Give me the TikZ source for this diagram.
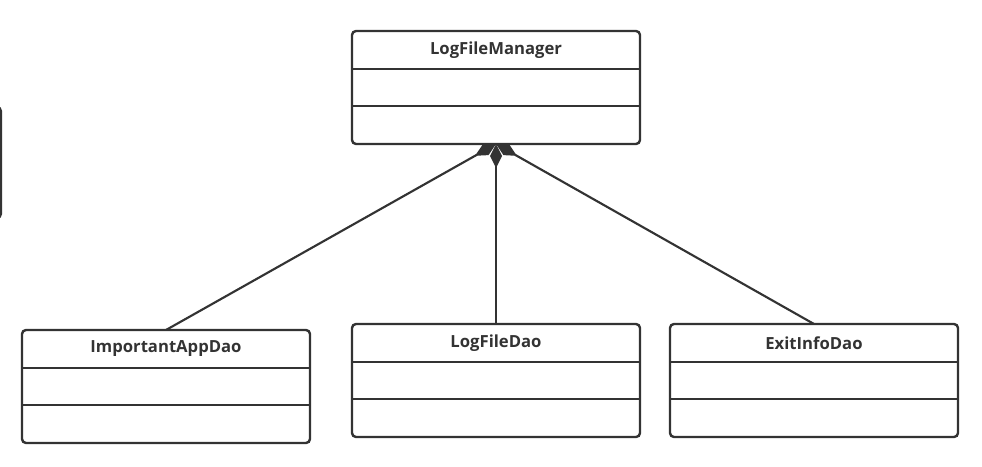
\documentclass[tikz,border=0pt]{standalone}
\usepackage{fontspec}
\setmainfont{Open Sans}
\usetikzlibrary{arrows.meta,positioning}
\definecolor{umlgray}{HTML}{333333}

\begin{document}
\begin{tikzpicture}[
    x=0.75pt, y=-0.75pt,
    node distance=22.5pt,
    every node/.style={font=\fontsize{12.5}{15}\selectfont\bfseries, text=umlgray},
    classbox/.style={
        draw=umlgray,
        line width=1.8pt,
        rounded corners=3pt,
        minimum width=216pt,
        minimum height=84.75pt,
        inner sep=0pt,
        outer sep=0pt
    },
    divider/.style={draw=umlgray, line width=1.6pt},
    comp/.style={
        draw=umlgray,
        line width=1.6pt,
        {Diamond[length=18pt,width=9pt]}-
    }
]
\useasboundingbox (0,0) rectangle (982,467);

% classes
\node[classbox] (mgr) at (496,87.5) {};
\node[classbox, below=135pt of mgr] (dao) {};
\node[classbox, left=31.5pt of dao, yshift=-4.5pt] (imp) {};
\node[classbox, right=of dao] (exit) {};

% class names
\node (mgrname) at ([yshift=-14.25pt]mgr.north) {LogFileManager};
\node (impname) at ([yshift=-14.25pt]imp.north) {ImportantAppDao};
\node (daoname) at ([yshift=-14.25pt]dao.north) {LogFileDao};
\node (exitname) at ([yshift=-14.25pt]exit.north) {ExitInfoDao};

% compartments
\foreach \b in {mgr,imp,dao,exit} {
    \draw[divider] ([yshift=-28.5pt]\b.north west) -- ([yshift=-28.5pt]\b.north east);
    \draw[divider] ([yshift=-56.25pt]\b.north west) -- ([yshift=-56.25pt]\b.north east);
}

% composition
\draw[comp] (mgr.south) -- (imp.north);
\draw[comp] (mgr.south) -- (dao.north);
\draw[comp] (mgr.south) -- (exit.north);

% box cut off at the left edge
\begin{scope}
\clip (0,0) rectangle (982,467);
\draw[draw=umlgray, line width=1.6pt, rounded corners=3pt] (-40,107) rectangle (1,218);
\end{scope}

\end{tikzpicture}
\end{document}
